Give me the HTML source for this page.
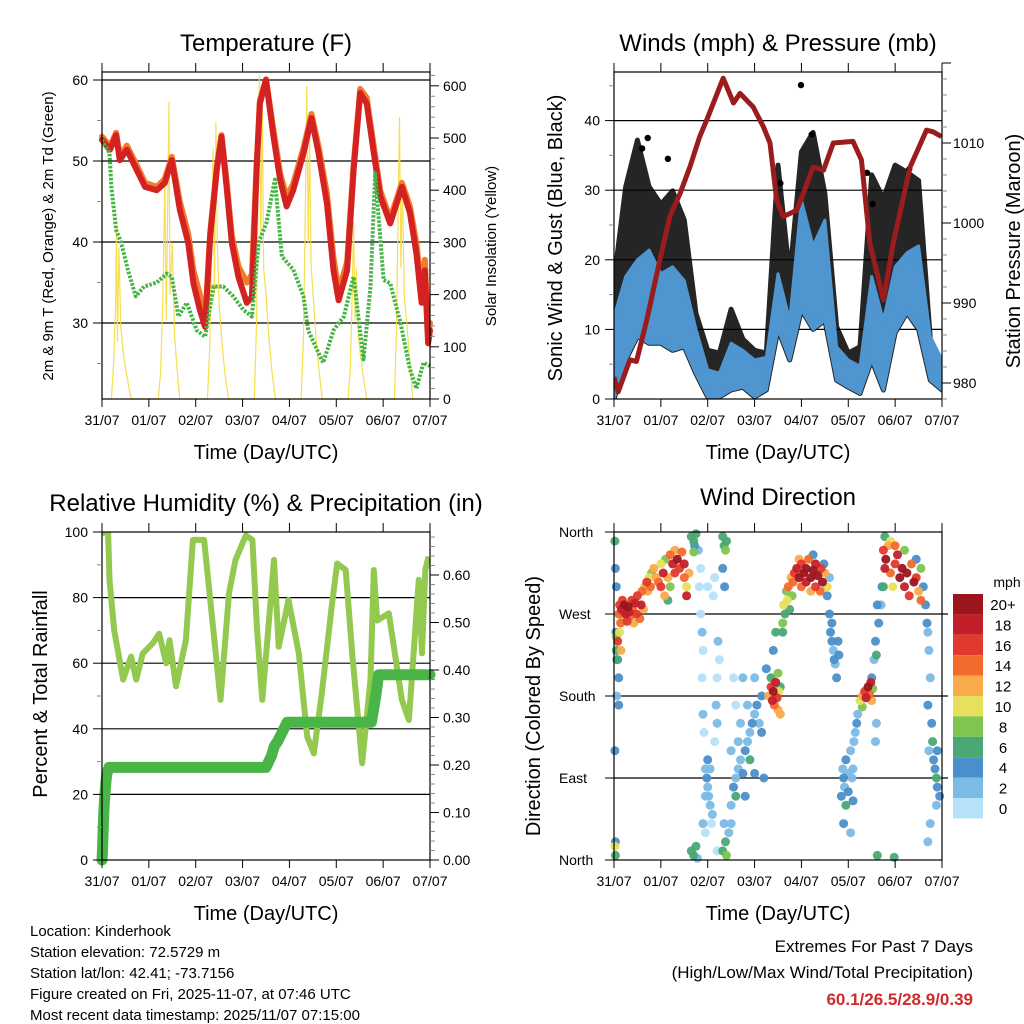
<!DOCTYPE html>
<html><head><meta charset="utf-8">
<style>
html,body{margin:0;padding:0;background:#fff;}
svg{display:block;font-family:"Liberation Sans",Arial,sans-serif;}
</style></head>
<body>
<svg id="chart" width="1024" height="1024" viewBox="0 0 1024 1024" xmlns="http://www.w3.org/2000/svg"></svg>
<script>
// ---------- DATA ----------
const dayLabels = ["31/07","01/07","02/07","03/07","04/07","05/07","06/07","07/07"];
const tempTicks = [30,40,50,60];
const solarTicks = [0,100,200,300,400,500,600];
const windTicks = [0,10,20,30,40];
const presTicks = [980,990,1000,1010];
const rhTicks = [0,20,40,60,80,100];
const rainTicks = ["0.00","0.10","0.20","0.30","0.40","0.50","0.60"];
const dirLabels = ["North","East","South","West","North"];
const speedBins = ["0","2","4","6","8","10","12","14","16","18","20+"];

const tempT = [0,.17,.3,.38,.53,.74,.92,1.17,1.34,1.49,1.66,1.84,1.95,2.09,2.2,2.31,2.45,2.55,2.66,2.77,2.91,3.09,3.2,3.3,3.37,3.5,3.66,3.8,3.94,4.08,4.3,4.47,4.62,4.8,4.94,5.05,5.23,5.37,5.51,5.65,5.8,5.94,6.15,6.29,6.4,6.57,6.71,6.82,6.89,6.96,7.0];
const temp2m = [52.6,51.4,53.2,50.1,51.4,48.9,46.8,46.4,47.3,50.1,44,39.9,34.9,31.6,29.5,40.7,48.9,53,46.8,39.9,35.7,32.5,33.2,48.9,57.1,60,53,47.7,44.4,46.4,51,55.3,51,44.8,36.5,32.8,36.5,48.9,58.4,57.1,51,45.6,42.3,44.8,46.8,43.6,38.6,32.5,36.5,27.5,29.1];
const temp9m = [53,51.8,53.5,50.6,51.9,49.5,47.3,46.8,47.8,50.5,45,41,36.5,33.5,30,41.2,49.3,53.2,47.5,40.8,37,35,36,49.5,57.5,60.1,53.8,48.5,45.5,47.2,51.6,55.8,51.8,46,38,34,37.5,49.5,58.9,57.8,51.8,46.3,42.9,45.3,47.3,44.4,39.8,34,37.8,28.5,30];
const dewT = [0,.16,.2,.3,.41,.55,.72,.9,1.17,1.38,1.49,1.63,1.81,2.02,2.2,2.38,2.59,2.8,3.02,3.2,3.34,3.51,3.69,3.84,4.08,4.3,4.4,4.62,4.72,4.94,5.16,5.37,5.58,5.73,5.83,6.01,6.15,6.37,6.57,6.71,6.86,7.0];
const dewV = [52.6,51,46.8,41.5,39.9,36.6,33.3,34.5,35,36.1,35.7,30.8,32.5,29.1,28.3,34.5,34.5,33.3,31.6,30.8,39.9,42.4,47.7,38.2,36.6,33.3,29.1,26.3,25.1,29.1,30.8,35.7,25.5,34.5,48.5,35.3,34.9,30,24.3,21.9,25.1,24.7];
const solT = [0.2,0.25,0.29,0.31,0.33,0.36,0.4,0.45,0.5,0.56,0.62,
 1.2,1.25,1.3,1.34,1.37,1.4,1.43,1.45,1.5,1.55,1.6,1.66,
 2.25,2.3,2.33,2.37,2.4,2.43,2.46,2.5,2.55,2.62,2.7,
 3.25,3.3,3.33,3.36,3.39,3.42,3.45,3.5,3.56,3.63,3.7,
 4.25,4.3,4.34,4.37,4.4,4.43,4.46,4.52,4.58,4.65,4.7,
 5.25,5.3,5.34,5.37,5.4,5.43,5.47,5.52,5.58,5.65,
 6.24,6.28,6.32,6.35,6.38,6.41,6.45,6.5,6.56,6.63];
const solV = [0,70,180,330,110,290,140,90,60,30,0,
 0,50,200,420,150,350,570,200,300,120,60,0,
 0,100,250,480,200,530,300,180,120,50,0,
 0,150,400,620,300,560,250,200,120,50,0,
 0,120,380,600,300,500,260,180,100,40,0,
 0,60,200,340,150,250,120,80,40,0,
 0,120,350,540,250,420,200,150,80,0];

const windT = [0,.25,.5,.75,1,1.25,1.5,1.75,2,2.25,2.5,2.75,3,3.25,3.5,3.75,4,4.25,4.5,4.75,5,5.25,5.5,5.75,6,6.25,6.5,6.75,7];
const windMax = [11.8,17.6,20,21.4,18,19,17,10,4.2,3.7,8,7,5.6,6,18,11.3,28.6,22,25.7,7.5,5.6,4.7,17.6,11.3,19,21,22,9,5.6];
const windMin = [0,5.6,9,8,8,7,7.5,3.6,0.3,0.3,1.3,1.7,0.3,1.3,10,5.6,12.8,10,11.3,2.7,1.7,0.8,5.6,1.3,9.5,12.4,10,2.7,1.3];
const gustMax = [17,30.5,37.2,30.5,28,29.9,25.7,12.3,7,6.6,12.9,8.6,7,6.6,33.6,17.6,35.5,38.3,29.5,10.4,6.6,7.5,32.2,28.8,33.6,32.6,31.4,8.6,5.2];
const gustOutT = [3.99,0.6,0.72,1.15,3.55,4.22,5.4,5.52,6.3];
const gustOutV = [45.1,36,37.5,34.5,31,38,32.5,28,33];
const presT = [0,.09,.34,.48,.70,.98,1.19,1.41,1.62,1.83,1.98,2.33,2.55,2.69,2.97,3.19,3.33,3.47,3.61,3.9,4.04,4.25,4.47,4.68,5.1,5.28,5.46,5.75,5.96,6.32,6.67,6.81,6.99];
const presV = [980.75,978.9,982.9,982.7,987.9,995.4,1000.8,1003.7,1007,1010.8,1012.9,1018.1,1015,1016.2,1014.5,1012,1010,1002.9,1000.8,1001.6,1003.7,1007,1006.6,1010,1010.2,1007.9,997.5,990.4,997.5,1007,1011.6,1011.4,1010.8];

const rhT = [0,0.03,0.13,0.16,0.26,0.45,0.62,0.73,0.87,1.08,1.22,1.37,1.44,1.58,1.79,1.94,2.18,2.53,2.71,2.85,3.07,3.21,3.31,3.42,3.6,3.67,3.77,3.98,4.2,4.38,4.52,4.69,4.91,5.02,5.2,5.34,5.55,5.73,5.8,5.87,6.12,6.4,6.55,6.76,6.83,6.9,6.97];
const rhV = [100,99.7,100,85.4,70,55,62,55,63,66,69,60,67,53,67,97.6,97.6,48.8,81.3,91.5,99,97.6,70,48.8,79.3,91.5,65,79.3,63,37.6,32.5,50.8,78.3,90.4,88.4,63,29.5,55,88.4,73,75.2,48.8,42.7,85.4,63,88.4,92.5];
const rainT = [0,0.01,0.03,0.05,0.08,0.1,0.15,3.5,3.62,3.68,3.75,3.85,3.95,5.75,5.8,5.85,5.9,7];
const rainV = [0,0.02,0.08,0.12,0.16,0.18,0.195,0.195,0.22,0.24,0.25,0.27,0.29,0.29,0.32,0.35,0.39,0.39];

const wdDay = [
 0.02,0.03,0.05,0.04,0.05,0.08,0.1,0.02,0.02,0.03,0.03,0.06,0.1,0.12,0.14,0.16,0.18,0.2,0.22,0.25,0.28,0.3,0.32,0.35,0.38,0.4,0.42,0.45,0.48,0.5,0.55,0.58,0.6,0.63,0.66,0.7,0.72,0.75,0.78,0.8,0.08,0.12,0.15,0.05,0.06,
 0.85,0.9,0.95,1.0,1.0,1.05,1.08,1.1,1.15,1.2,1.25,1.3,1.3,1.35,1.4,1.45,1.5,1.5,1.55,1.55,1.6,1.2,1.15,
 1.65,1.7,1.72,1.75,1.7,1.65,1.7,1.75,1.78,
 1.8,1.82,1.85,1.88,1.9,1.88,1.9,1.92,1.95,1.98,2.0,2.02,2.05,2.0,1.95,2.05,2.1,2.08,2.15,2.18,2.2,2.22,2.2,1.85,2.0,2.12,1.9,1.95,2.2,2.15,2.25,
 2.32,2.35,2.38,2.4,2.32,2.36,2.32,2.38,2.4,2.35,
 2.45,2.5,2.55,2.6,2.6,2.65,2.7,2.75,2.8,2.85,2.9,2.95,3.0,3.05,3.1,3.15,2.55,2.6,2.7,2.75,2.9,3.0,2.8,2.85,3.15,3.0,3.2,2.65,2.5,2.5,
 3.3,3.35,3.38,3.4,3.42,3.45,3.48,3.5,3.52,3.55,3.35,3.5,3.25,3.55,3.45,3.4,
 3.6,3.62,3.65,3.68,3.7,3.72,3.75,3.78,3.8,3.82,3.6,
 3.85,3.9,3.95,4.0,4.05,4.1,4.1,4.15,4.2,4.25,4.3,4.3,4.35,4.4,4.42,4.45,4.5,4.55,4.0,4.2,3.95,4.25,4.48,
 4.55,4.6,4.62,4.65,4.68,4.7,4.72,4.75,4.78,4.8,4.6,4.65,
 4.85,4.88,4.9,4.92,4.95,5.0,5.0,5.05,5.08,5.1,5.12,5.15,5.18,5.2,4.9,5.05,4.95,5.1,
 5.25,5.3,5.35,5.38,5.42,5.45,5.48,5.5,5.52,5.3,
 5.5,5.55,5.58,5.6,5.65,5.7,5.72,5.58,5.6,5.62,
 5.75,5.78,5.8,5.85,5.9,5.95,6.0,6.05,6.1,6.15,6.2,6.25,6.3,6.35,6.4,6.45,6.5,6.55,6.55,5.9,5.78,6.0,6.2,5.75,6.45,6.6,
 6.65,6.68,6.7,6.72,6.75,6.7,6.78,6.8,6.82,6.85,6.88,6.9,6.88,6.75,6.7,6.9,6.95,6.72,5.62,5.98,0.1];
const wdDir = [
 350,320,300,250,230,220,200,120,15,5,20,180,270,280,260,275,285,265,280,270,262,278,272,268,285,275,260,282,270,290,265,280,295,275,300,305,295,310,300,315,240,250,230,245,220,
 320,310,305,325,300,315,290,330,310,335,325,340,315,330,320,338,310,325,300,290,315,300,285,
 355,350,345,358,338,10,5,15,2,
 340,300,270,250,230,200,160,140,100,90,80,70,60,110,70,100,50,40,130,170,200,240,150,320,300,290,40,30,10,310,220,
 355,345,340,350,320,300,10,20,5,40,
 30,60,80,90,70,100,110,95,120,130,140,150,160,170,150,180,200,170,150,200,110,95,70,170,140,200,90,130,120,40,
 180,190,175,185,170,195,178,165,185,160,200,205,210,190,250,230,
 260,280,270,295,285,300,275,310,290,305,250,
 315,320,310,325,315,305,320,330,310,318,300,325,312,295,320,305,315,300,300,295,330,335,325,
 290,270,250,240,230,220,215,200,240,225,310,260,
 70,100,90,80,110,95,75,120,90,65,130,140,150,160,40,30,60,100,
 175,180,185,178,190,182,195,175,188,168,
 200,220,240,225,260,280,300,130,150,280,
 340,320,330,345,315,300,325,335,310,320,300,315,290,325,305,310,295,285,320,350,355,345,340,300,330,300,
 280,260,250,230,200,170,150,130,110,100,90,80,60,40,20,120,70,120,5,3,170];
const wdSpeed = [
 6,4,4,5,7,4,4,4,10,6,4,3,14,17,15,18,16,13,20,18,16,20,19,15,17,14,12,18,16,17,14,19,15,12,13,16,12,10,14,8,16,10,13,8,6,
 13,12,14,10,16,18,12,8,13,14,18,12,17,20,16,14,15,18,10,18,12,8,7,
 7,6,5,7,8,6,7,6,3,
 2,1,1,2,1,1,2,1,3,4,3,2,3,4,2,2,3,1,1,2,1,2,2,1,1,0,2,1,1,1,1,
 6,7,8,6,4,5,6,7,8,2,
 2,3,4,3,6,2,3,4,4,2,3,4,3,4,3,4,1,1,2,2,6,4,5,3,4,2,4,3,2,3,
 12,16,18,20,14,18,16,12,10,13,6,8,4,7,7,4,
 8,10,7,9,11,14,6,12,8,15,7,
 16,18,20,16,22,18,20,14,20,22,16,18,20,14,16,22,12,10,14,13,12,4,4,
 5,4,4,4,3,4,3,4,4,5,3,4,
 4,3,4,3,4,2,4,3,3,4,2,3,4,3,4,2,6,2,
 10,13,16,18,20,14,18,12,9,8,
 4,3,4,6,4,3,4,2,2,4,
 16,18,20,12,14,10,16,18,22,20,18,22,16,14,20,16,12,14,8,10,6,14,9,7,4,4,
 4,4,2,2,3,4,4,7,4,4,6,5,2,2,2,5,4,2,7,6,4];
const speedColors = ["#b5e2f8","#7cbbe6","#4a8fc9","#4aa874","#7fc54f","#e6e05c","#f9aa4b","#f26a2c","#e03a2e","#c21f2a","#9b151d"];

// ---------- HELPERS ----------
const NS = "http://www.w3.org/2000/svg";
const svg = document.getElementById("chart");
function mk(tag, attrs, parent) {
  const e = document.createElementNS(NS, tag);
  for (const k in attrs) e.setAttribute(k, attrs[k]);
  (parent || svg).appendChild(e);
  return e;
}
function txt(str, x, y, size, anchor, parent, extra) {
  const a = {x: x, y: y, "font-size": size, "text-anchor": anchor || "middle", fill: "#000"};
  if (extra) for (const k in extra) a[k] = extra[k];
  const t = mk("text", a, parent);
  t.textContent = str;
  return t;
}
function pathFrom(xs, ys, fx, fy) {
  let d = "";
  for (let i = 0; i < Math.min(xs.length, ys.length); i++) d += (i ? "L" : "M") + fx(xs[i]).toFixed(1) + "," + fy(ys[i]).toFixed(1);
  return d;
}
function bandFrom(xs, top, bot, fx, fy) {
  let d = "";
  for (let i = 0; i < xs.length; i++) d += (i ? "L" : "M") + fx(xs[i]).toFixed(1) + "," + fy(top[i]).toFixed(1);
  for (let i = xs.length - 1; i >= 0; i--) d += "L" + fx(xs[i]).toFixed(1) + "," + fy(bot[i]).toFixed(1);
  return d + "Z";
}

const L1 = 102, R1 = 430, L2 = 614, R2 = 942;
const dayW = 328 / 7;
const x1 = d => L1 + d * dayW;
const x2 = d => L2 + d * dayW;

function xAxis(g, fx, top, bottom, name) {
  for (let i = 0; i < dayLabels.length; i++) {
    const x = fx(i);
    mk("line", {x1: x, y1: bottom, x2: x, y2: bottom + 8, stroke: "#000", "stroke-width": 1}, g);
    mk("line", {x1: x, y1: top, x2: x, y2: top - 9, stroke: "#000", "stroke-width": 1}, g);
    const t = txt(dayLabels[i], x, bottom + 26, 14, "middle", g);
    
    
  }
  const at = txt("Time (Day/UTC)", (fx(0) + fx(7)) / 2, bottom + 60, 20, "middle", g);
  
  
}
function frame(g, l, t, r, b) {
  mk("rect", {x: l, y: t, width: r - l, height: b - t, fill: "none", stroke: "#000", "stroke-width": 1.2}, g);
}
function grid(g, l, r, y) {
  mk("line", {x1: l, y1: y, x2: r, y2: y, stroke: "#000", "stroke-width": 1.2}, g);
}

// ---------- PANEL 1: TEMPERATURE ----------
(function () {
  const g = mk("g", {});
  
  
  const T = 72, B = 399;
  const yT = v => 80 + (60 - v) * 8.1;
  const yS = s => 399 - s * 0.522;
  const title = txt("Temperature (F)", 266, 51, 24, "middle", g);
  
  
  for (const v of tempTicks) grid(g, L1, R1, yT(v));
  const sol = mk("path", {d: pathFrom(solT, solV, x1, yS), fill: "none", stroke: "#f7dc3c", "stroke-width": 1.2, opacity: 0.9}, g);
  
  
  const o = mk("path", {d: pathFrom(tempT, temp9m, x1, yT), fill: "none", stroke: "#f27b2c", "stroke-width": 6, "stroke-linejoin": "round", "stroke-linecap": "round"}, g);
  
  
  const r = mk("path", {d: pathFrom(tempT, temp2m, x1, yT), fill: "none", stroke: "#d42121", "stroke-width": 6, "stroke-linejoin": "round", "stroke-linecap": "round"}, g);
  
  
  const dp = mk("path", {d: pathFrom(dewT, dewV, x1, yT), fill: "none", stroke: "#46b445", "stroke-width": 4, "stroke-dasharray": "2.5 1.5", "stroke-linejoin": "round"}, g);
  
  
  frame(g, L1, T, R1, B);
  xAxis(g, x1, T, B, "temperature");
  for (let v = 25; v <= 60; v += 5) {
    const major = v % 10 === 0;
    mk("line", {x1: L1, y1: yT(v), x2: L1 - (major ? 9 : 5), y2: yT(v), stroke: major ? "#000" : "#888", "stroke-width": 1}, g);
  }
  for (const v of tempTicks) {
    const t = txt(String(v), L1 - 14, yT(v) + 5, 14, "end", g);
    
    
  }
  for (let s = 0; s <= 620; s += 20) {
    const major = s % 100 === 0;
    mk("line", {x1: R1, y1: yS(s), x2: R1 + (major ? 9 : 5), y2: yS(s), stroke: major ? "#000" : "#888", "stroke-width": 1}, g);
  }
  for (const s of solarTicks) {
    const t = txt(String(s), R1 + 13, yS(s) + 5, 14, "start", g);
    
    
  }
  const yl = txt("2m & 9m T (Red, Orange) & 2m Td (Green)", 0, 0, 15, "middle", g, {transform: "translate(53,236) rotate(-90)"});
  
  
  const yr = txt("Solar Insolation (Yellow)", 0, 0, 15, "middle", g, {transform: "translate(496,246) rotate(-90)"});
  
  
})();

// ---------- PANEL 2: WINDS & PRESSURE ----------
(function () {
  const g = mk("g", {});
  
  
  const T = 72, B = 399;
  const yW = v => 399 - v * 6.96;
  const yP = p => 383 - (p - 980) * 8.0;
  const title = txt("Winds (mph) & Pressure (mb)", 778, 51, 24, "middle", g);
  
  
  for (const v of windTicks) if (v > 0) grid(g, L2, R2, yW(v));
  const clip = mk("clipPath", {id: "clip2"}, g);
  mk("rect", {x: L2, y: T, width: R2 - L2, height: B - T}, clip);
  const inner = mk("g", {"clip-path": "url(#clip2)"}, g);
  const gb = mk("path", {d: bandFrom(windT, gustMax, windMin, x2, yW), fill: "#000", stroke: "#000", "stroke-width": 5, "stroke-linejoin": "round", opacity: 0.85}, inner);
  
  
  for (let i = 0; i < gustOutT.length; i++) {
    const c = mk("circle", {cx: x2(gustOutT[i]), cy: yW(gustOutV[i]), r: 3.2, fill: "#000"}, inner);
    
    
  }
  const wb = mk("path", {d: bandFrom(windT, windMax, windMin, x2, yW), fill: "#4f95cf", stroke: "#4f95cf", "stroke-width": 3, "stroke-linejoin": "round"}, inner);
  
  
  const pl = mk("path", {d: pathFrom(presT, presV, x2, yP), fill: "none", stroke: "#9b1c1c", "stroke-width": 5, "stroke-linejoin": "round"}, inner);
  
  
  frame(g, L2, T, R2, B);
  xAxis(g, x2, T, B, "winds");
  for (let v = 0; v <= 45; v += 5) {
    const major = v % 10 === 0;
    mk("line", {x1: L2, y1: yW(v), x2: L2 - (major ? 9 : 5), y2: yW(v), stroke: major ? "#000" : "#888", "stroke-width": 1}, g);
  }
  for (const v of windTicks) {
    const t = txt(String(v), L2 - 14, yW(v) + 5, 14, "end", g);
    
    
  }
  for (let p = 978; p <= 1020; p += 2) {
    const major = p % 10 === 0;
    mk("line", {x1: R2, y1: yP(p), x2: R2 + (major ? 9 : 5), y2: yP(p), stroke: major ? "#000" : "#888", "stroke-width": 1}, g);
  }
  for (const p of presTicks) {
    const t = txt(String(p), R2 + 11, yP(p) + 5, 14, "start", g);
    
    
  }
  const yl = txt("Sonic Wind & Gust (Blue, Black)", 0, 0, 20, "middle", g, {transform: "translate(562,238) rotate(-90)"});
  
  
  const yr = txt("Station Pressure (Maroon)", 0, 0, 20, "middle", g, {transform: "translate(1020,251) rotate(-90)"});
  
  
})();

// ---------- PANEL 3: RH & PRECIP ----------
(function () {
  const g = mk("g", {});
  
  
  const T = 532, B = 860;
  const yR = v => 860 - v * 3.28;
  const yPr = v => 860 - v * 475;
  const title = txt("Relative Humidity (%) & Precipitation (in)", 266, 511, 24, "middle", g);
  
  
  for (const v of rhTicks) if (v > 0 && v < 100) grid(g, L1, R1, yR(v));
  const clip = mk("clipPath", {id: "clip3"}, g);
  mk("rect", {x: L1, y: T, width: R1 - L1, height: B - T}, clip);
  const inner = mk("g", {"clip-path": "url(#clip3)"}, g);
  const rh = mk("path", {d: pathFrom(rhT, rhV, x1, yR), fill: "none", stroke: "#92c94e", "stroke-width": 6, "stroke-linejoin": "round"}, inner);
  
  
  const rn = mk("path", {d: pathFrom(rainT, rainV, x1, yPr), fill: "none", stroke: "#48b546", "stroke-width": 11, "stroke-linejoin": "round", "stroke-linecap": "round"}, g);
  
  
  frame(g, L1, T, R1, B);
  xAxis(g, x1, T, B, "humidity");
  for (let v = 0; v <= 100; v += 10) {
    const major = v % 20 === 0;
    mk("line", {x1: L1, y1: yR(v), x2: L1 - (major ? 9 : 5), y2: yR(v), stroke: major ? "#000" : "#888", "stroke-width": 1}, g);
  }
  for (const v of rhTicks) {
    const t = txt(String(v), L1 - 14, yR(v) + 5, 14, "end", g);
    
    
  }
  for (let k = 0; k <= 34; k++) {
    const v = k * 0.02;
    const major = k % 5 === 0;
    mk("line", {x1: R1, y1: yPr(v), x2: R1 + (major ? 9 : 5), y2: yPr(v), stroke: major ? "#000" : "#888", "stroke-width": 1}, g);
  }
  for (const s of rainTicks) {
    const t = txt(s, R1 + 13, yPr(parseFloat(s)) + 5, 14, "start", g);
    
    
  }
  const yl = txt("Percent & Total Rainfall", 0, 0, 20, "middle", g, {transform: "translate(47,694) rotate(-90)"});
  
  
})();

// ---------- PANEL 4: WIND DIRECTION ----------
(function () {
  const g = mk("g", {});
  
  
  const T = 532, B = 860;
  const yD = d => 860 - d * 328 / 360;
  const title = txt("Wind Direction", 778, 505, 24, "middle", g);
  
  
  for (let i = 1; i < 4; i++) grid(g, L2, R2 + 6, yD(i * 90));
  const idx = wdDay.map((_, i) => i).slice(0, Math.min(wdDay.length, wdDir.length, wdSpeed.length));
  idx.sort((a, b) => wdSpeed[a] - wdSpeed[b]);
  for (const i of idx) {
    const bin = Math.min(10, Math.floor(wdSpeed[i] / 2));
    const c = mk("circle", {cx: x2(wdDay[i]).toFixed(1), cy: yD(wdDir[i]).toFixed(1), r: 4.5, fill: speedColors[bin], opacity: 0.95}, g);
    
    
  }
  frame(g, L2, T, R2, B);
  xAxis(g, x2, T, B, "wind-direction");
  for (let i = 0; i < dirLabels.length; i++) {
    const y = yD(i * 90);
    mk("line", {x1: L2, y1: y, x2: L2 - 9, y2: y, stroke: "#000", "stroke-width": 1}, g);
    const t = txt(dirLabels[i], 559, y + 5, 14, "start", g);
    
    
  }
  const yl = txt("Direction (Colored By Speed)", 0, 0, 20, "middle", g, {transform: "translate(540,706) rotate(-90)"});
  
  
  const lg = mk("g", {}, g);
  
  
  const mph = txt("mph", 1007, 587, 14, "middle", lg);
  
  
  for (let i = 0; i < speedBins.length; i++) {
    const k = speedBins.length - 1 - i;
    const y = 594 + i * 20.4;
    const rc = mk("rect", {x: 953, y: y, width: 30, height: 20.4, fill: speedColors[k]}, lg);
    
    
    const t = txt(speedBins[k], 1003, y + 16, 15, "middle", lg);
    
    
  }
})();

// ---------- FOOTER TEXT ----------
(function () {
  const info = ["Location: Kinderhook", "Station elevation: 72.5729 m", "Station lat/lon: 42.41; -73.7156",
    "Figure created on Fri, 2025-11-07, at 07:46 UTC", "Most recent data timestamp: 2025/11/07 07:15:00"];
  for (let i = 0; i < info.length; i++) {
    const t = txt(info[i], 30, 936 + i * 21, 15, "start");
    
    
  }
  const e1 = txt("Extremes For Past 7 Days", 973, 952, 17, "end");
  
  
  const e2 = txt("(High/Low/Max Wind/Total Precipitation)", 973, 978, 17, "end");
  
  
  const e3 = txt("60.1/26.5/28.9/0.39", 973, 1005, 17, "end", null, {"font-weight": "bold", fill: "#d02a2a"});
  
  
})();
</script>
</body></html>
